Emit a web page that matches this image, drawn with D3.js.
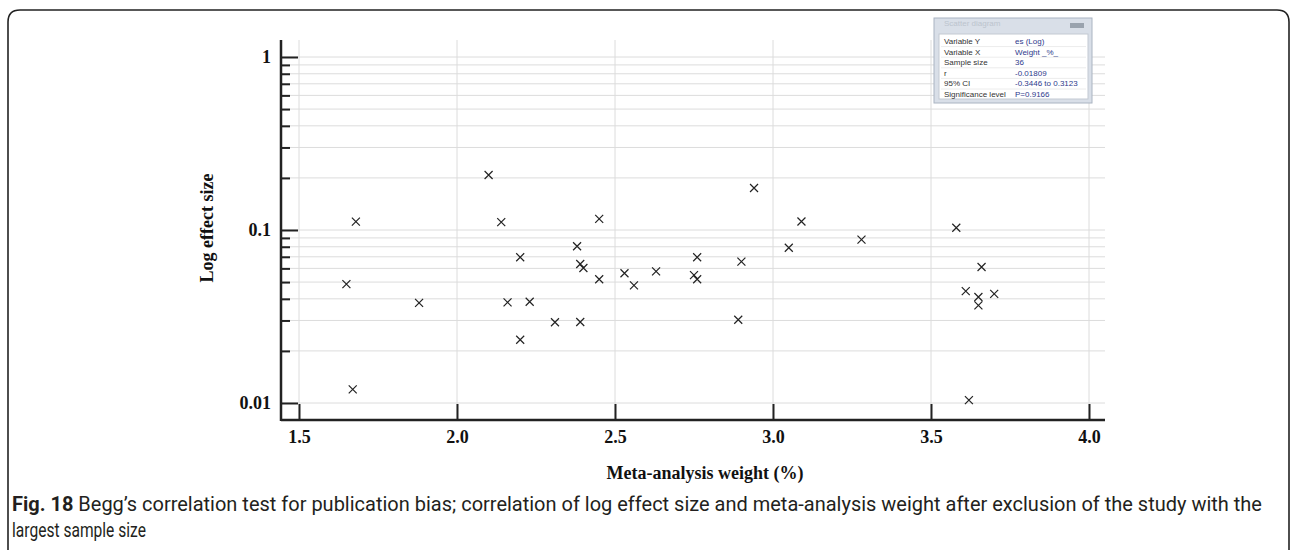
<!DOCTYPE html>
<html>
<head>
<meta charset="utf-8">
<script src="https://cdn.jsdelivr.net/npm/d3@7"></script>
<style>
  body { margin: 0; background: #fff; }
  svg { display: block; }
  .tick text { font-family: "Liberation Serif", "Times New Roman", serif; font-weight: bold; font-size: 18px; fill: #111; }
  .axis-title { font-family: "Liberation Serif", "Times New Roman", serif; font-weight: bold; font-size: 18px; fill: #111; }
  .caption { font-family: "Liberation Sans Narrow", "Roboto", sans-serif; font-size: 21px; fill: #231f20; }
  .info text { font-family: "Liberation Sans", Arial, sans-serif; font-size: 8px; }
</style>
</head>
<body>
<svg id="chart" width="1292" height="550"></svg>
<script>
// Meta-analysis weight (%) and effect size for the 36 studies
const weights = [1.65, 1.67, 1.68, 1.88, 2.10, 2.14, 2.16, 2.20, 2.20, 2.23,
                 2.31, 2.38, 2.39, 2.39, 2.40, 2.45, 2.45, 2.53, 2.56, 2.63,
                 2.75, 2.76, 2.76, 2.89, 2.90, 2.94, 3.05, 3.09, 3.28, 3.58,
                 3.61, 3.62, 3.65, 3.65, 3.66, 3.70];
const effects = [0.0487, 0.0120, 0.1117, 0.0379, 0.208, 0.111, 0.0382, 0.0696, 0.0232, 0.0385,
                 0.0293, 0.0805, 0.0636, 0.0294, 0.0603, 0.116, 0.0519, 0.0562, 0.0479, 0.0577,
                 0.0549, 0.0519, 0.0696, 0.0303, 0.0656, 0.175, 0.0790, 0.112, 0.0879, 0.103,
                 0.0443, 0.0104, 0.0410, 0.0367, 0.0611, 0.0427];

const xTicks = [1.5, 2.0, 2.5, 3.0, 3.5, 4.0];
const yMajor = [0.01, 0.1, 1];
const yMinor = [0.02, 0.03, 0.04, 0.05, 0.06, 0.07, 0.08, 0.09,
                0.2, 0.3, 0.4, 0.5, 0.6, 0.7, 0.8, 0.9];

const infoLabels = ["Variable Y", "Variable X", "Sample size", "r", "95% CI", "Significance level"];
const infoValues = ["es (Log)", "Weight _%_", "36", "-0.01809", "-0.3446 to 0.3123", "P=0.9166"];

const captionBold = "Fig. 18";
const captionLine1 = " Begg\u2019s correlation test for publication bias; correlation of log effect size and meta-analysis weight after exclusion of the study with the";
const captionLine2 = "largest sample size";

const svg = d3.select("#chart");

// plot frame
const plot = {left: 281, right: 1105, top: 40, bottom: 420};

const x = d3.scaleLinear().domain([1.5, 4.0]).range([299, 1089]);
const y = d3.scaleLog().domain([0.01, 1]).range([403, 57]);

const data = weights.map((w, i) => ({x: w, y: effects[i]}));

// outer figure border (open at the bottom)
svg.append("path")
    .attr("d", "M8,550 L8,22 Q8,10 20,10 L1277,10 Q1289,10 1289,22 L1289,550")
    .attr("fill", "none")
    .attr("stroke", "#222")
    .attr("stroke-width", 1.6);

// grid
const grid = svg.append("g").attr("class", "grid");
grid.selectAll(".hgrid")
    .data(yMajor.concat(yMinor))
    .enter()
    .append("line")
    .attr("x1", plot.left).attr("x2", plot.right)
    .attr("y1", d => y(d)).attr("y2", d => y(d))
    .attr("stroke", "#dcdcdc").attr("stroke-width", 1);
grid.selectAll(".vgrid")
    .data(xTicks)
    .enter()
    .append("line")
    .attr("x1", d => x(d)).attr("x2", d => x(d))
    .attr("y1", plot.top).attr("y2", plot.bottom)
    .attr("stroke", "#dcdcdc").attr("stroke-width", 1);

// y axis: major ticks with labels, minor ticks without
const yAxisMajor = d3.axisLeft(y)
    .tickValues(yMajor)
    .tickFormat(d => d === 1 ? "1" : (d === 0.1 ? "0.1" : "0.01"))
    .tickSize(-17)
    .tickPadding(10);
svg.append("g")
    .attr("class", "axis y")
    .attr("transform", `translate(${plot.left},0)`)
    .call(yAxisMajor)
    .call(g => g.select(".domain").remove())
    .call(g => g.selectAll(".tick line").attr("stroke", "#222").attr("stroke-width", 2));

const yAxisMinor = d3.axisLeft(y)
    .tickValues(yMinor)
    .tickFormat("")
    .tickSize(-9);
svg.append("g")
    .attr("class", "axis y minor")
    .attr("transform", `translate(${plot.left},0)`)
    .call(yAxisMinor)
    .call(g => g.select(".domain").remove())
    .call(g => g.selectAll(".tick line").attr("stroke", "#222").attr("stroke-width", 2));

// x axis, ticks point up into the plot
const xAxis = d3.axisBottom(x)
    .tickValues(xTicks)
    .tickFormat(d3.format(".1f"))
    .tickSize(-16)
    .tickPadding(10);
svg.append("g")
    .attr("class", "axis x")
    .attr("transform", `translate(0,${plot.bottom})`)
    .call(xAxis)
    .call(g => g.select(".domain").remove())
    .call(g => g.selectAll(".tick line").attr("stroke", "#222").attr("stroke-width", 2));

// axis lines
svg.append("line")
    .attr("x1", plot.left).attr("x2", plot.left)
    .attr("y1", plot.top).attr("y2", plot.bottom + 1)
    .attr("stroke", "#222").attr("stroke-width", 2.5);
svg.append("line")
    .attr("x1", plot.left).attr("x2", plot.right)
    .attr("y1", plot.bottom).attr("y2", plot.bottom)
    .attr("stroke", "#222").attr("stroke-width", 2.5);

// axis titles
svg.append("text")
    .attr("class", "axis-title")
    .attr("transform", `translate(213,228)rotate(-90)`)
    .attr("text-anchor", "middle")
    .text("Log effect size");
svg.append("text")
    .attr("class", "axis-title")
    .attr("x", 705)
    .attr("y", 479)
    .attr("text-anchor", "middle")
    .text("Meta-analysis weight (%)");

// points as crosses
const s = 4;
svg.selectAll(".pt")
    .data(data)
    .enter()
    .append("path")
    .attr("class", "pt")
    .attr("transform", d => `translate(${x(d.x)},${y(d.y)})`)
    .attr("d", `M${-s},${-s}L${s},${s}M${-s},${s}L${s},${-s}`)
    .attr("stroke", "#222")
    .attr("stroke-width", 1.2)
    .attr("fill", "none");

// statistics window in the top right corner
const info = svg.append("g").attr("class", "info");
info.append("rect")
    .attr("x", 934).attr("y", 18).attr("width", 158).attr("height", 85)
    .attr("fill", "#d9dfe8").attr("stroke", "#aab4c2").attr("stroke-width", 1);
info.append("text")
    .attr("x", 944).attr("y", 26)
    .attr("fill", "#bcc4ce")
    .text("Scatter diagram");
info.append("rect")
    .attr("x", 1070).attr("y", 23).attr("width", 14).attr("height", 5)
    .attr("fill", "#9aa3ae");
info.append("rect")
    .attr("x", 939).attr("y", 34).attr("width", 149).attr("height", 65)
    .attr("fill", "#fff").attr("stroke", "#c3c9d2").attr("stroke-width", 1);

const rowH = 10.6;
info.selectAll(".sep")
    .data(infoLabels.slice(1))
    .enter()
    .append("line")
    .attr("x1", 941).attr("x2", 1086)
    .attr("y1", (d, i) => 36 + (i + 1) * rowH)
    .attr("y2", (d, i) => 36 + (i + 1) * rowH)
    .attr("stroke", "#ececec");
info.selectAll(".lab")
    .data(infoLabels)
    .enter()
    .append("text")
    .attr("x", 944)
    .attr("y", (d, i) => 44 + i * rowH)
    .attr("fill", "#333")
    .text(d => d);
info.selectAll(".val")
    .data(infoValues)
    .enter()
    .append("text")
    .attr("x", 1015)
    .attr("y", (d, i) => 44 + i * rowH)
    .attr("fill", "#2e3a8c")
    .text(d => d);

// caption: condensed look by squeezing the text horizontally to its width
function fitText(sel, x0, y0, width) {
    const w = sel.node().getComputedTextLength();
    sel.attr("transform", `translate(${x0},${y0}) scale(${width / w},1)`);
}
const cap1 = svg.append("text").attr("class", "caption");
cap1.append("tspan").attr("font-weight", "bold").text(captionBold);
cap1.append("tspan").text(captionLine1);
fitText(cap1, 12, 511, 1250);

const cap2 = svg.append("text").attr("class", "caption").text(captionLine2);
fitText(cap2, 12, 537, 134);
</script>
</body>
</html>
